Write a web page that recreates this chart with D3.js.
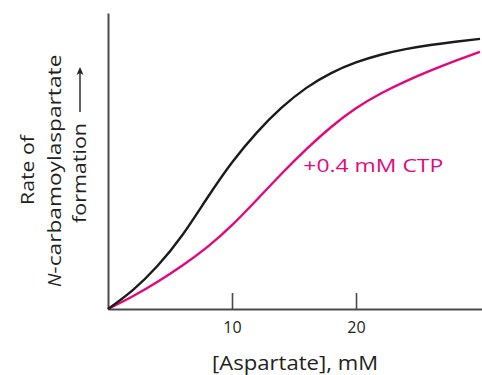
<!DOCTYPE html>
<html>
<head>
<meta charset="utf-8">
<script src="https://cdn.jsdelivr.net/npm/d3@7"></script>
<style>
  html, body { margin: 0; padding: 0; background: #fff; }
  svg { display: block; font-family: "Open Sans", "Noto Sans", sans-serif; }
</style>
</head>
<body>
<svg id="chart" width="482" height="375"></svg>
<script>
// Data (arbitrary rate units, 0-100)
const aspartate = [0, 2, 4, 6, 8, 10, 12, 14, 16, 18, 20, 22, 24, 26, 28, 30];
const rateControl = [0, 6.4, 14.6, 25.0, 37.5, 49.5, 59.6, 68.0, 74.7, 79.7, 83.3, 85.9, 87.8, 89.2, 90.3, 91.25];
const rateCTP = [0, 4.3, 9.2, 14.7, 20.9, 28.3, 36.9, 45.7, 54.0, 61.5, 67.8, 72.8, 76.9, 80.5, 83.8, 86.9];
const xTicks = [10, 20];
const xLabel = "[Aspartate], mM";
const yLabelLines = ["Rate of", "-carbamoylaspartate", "formation"];
const ctpLabel = "+0.4 mM CTP";
const ctpLabelPos = [15.75, 46.3];

const svg = d3.select("#chart");
const x = d3.scaleLinear().domain([0, 30.16]).range([108, 482]);
const y = d3.scaleLinear().domain([0, 100]).range([309, 13]);

const axisColor = "#4a4a4a";
const textColor = "#231f20";
const pink = "#e3077f";

// x axis
const gx = svg.append("g").attr("transform", `translate(0,${y(0)})`)
  .call(d3.axisBottom(x).tickValues(xTicks).tickSizeInner(-16).tickSizeOuter(0).tickFormat(d3.format("d")));
gx.select(".domain").attr("stroke", axisColor).attr("stroke-width", 2);
gx.selectAll(".tick line").attr("stroke", axisColor).attr("stroke-width", 1.6);
gx.selectAll(".tick text").attr("fill", textColor).attr("font-size", 16)
  .attr("font-family", "Open Sans, sans-serif").attr("dy", "0").attr("y", 24);

// y axis
const gy = svg.append("g").attr("transform", `translate(${x(0)},0)`)
  .call(d3.axisLeft(y).tickValues([]).tickSizeOuter(0));
gy.select(".domain").attr("stroke", axisColor).attr("stroke-width", 2);

// curves
const line = d3.line().x((d, i) => x(aspartate[i])).y(d => y(d)).curve(d3.curveNatural);
svg.append("path").attr("d", line(rateCTP)).attr("fill", "none")
  .attr("stroke", pink).attr("stroke-width", 2.4);
svg.append("path").attr("d", line(rateControl)).attr("fill", "none")
  .attr("stroke", "#1b1b1b").attr("stroke-width", 2.4);

// CTP label
svg.append("text").attr("x", x(ctpLabelPos[0])).attr("y", y(ctpLabelPos[1]))
  .attr("fill", pink).attr("font-size", 19)
  .attr("textLength", 140).attr("lengthAdjust", "spacingAndGlyphs")
  .text(ctpLabel);

// x label
svg.append("text").attr("x", 212).attr("y", 370)
  .attr("fill", textColor).attr("font-size", 20)
  .attr("textLength", 166).attr("lengthAdjust", "spacingAndGlyphs")
  .text(xLabel);

// y label (rotated)
const yl = svg.append("g").attr("fill", textColor).attr("font-size", 19);
yl.append("text").attr("transform", "translate(34,205) rotate(-90)")
  .attr("textLength", 70).attr("lengthAdjust", "spacingAndGlyphs").text(yLabelLines[0]);
const l2 = yl.append("text").attr("transform", "translate(60.5,287) rotate(-90)");
l2.append("tspan").attr("font-style", "italic").text("N");
l2.append("tspan").attr("textLength", 219).attr("lengthAdjust", "spacingAndGlyphs").text(yLabelLines[1]);
yl.append("text").attr("transform", "translate(86,223) rotate(-90)")
  .attr("textLength", 100).attr("lengthAdjust", "spacingAndGlyphs").text(yLabelLines[2]);
// arrow after "formation"
const arrowG = svg.append("g").attr("transform", "translate(86,0)");
arrowG.append("line").attr("x1", -6).attr("x2", -6).attr("y1", 112).attr("y2", 70)
  .attr("stroke", textColor).attr("stroke-width", 1.4);
arrowG.append("path").attr("d", "M-6,67 L-9.5,75 L-6,73 L-2.5,75 Z").attr("fill", textColor);
</script>
</body>
</html>
